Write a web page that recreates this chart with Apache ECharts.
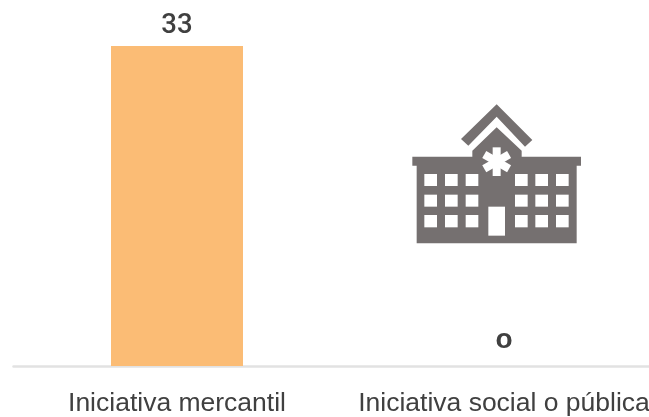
<!DOCTYPE html>
<html><head><meta charset="utf-8">
<style>html,body{margin:0;padding:0;background:#fff;overflow:hidden;width:649px;height:417px}#w{width:649px;height:417px;overflow:hidden}#c{width:680px;height:417px}</style>
<script src="https://cdn.jsdelivr.net/npm/echarts@6/dist/echarts.min.js"></script>
</head><body><div id="w"><div id="c"></div></div>
<script>
const categories = ['Iniciativa mercantil', 'Iniciativa social o pública'];
const values = [33, 0];

const chart = echarts.init(document.getElementById('c'), null, {renderer: 'canvas'});
const ICON = '#757070';
const X = z => 400 + z / 3, Y = z => 95 + z / 3;
const poly = pts => ({type: 'polygon', silent: true, shape: {points: pts.map(p => [X(p[0]), Y(p[1])])}, style: {fill: ICON}});
const box = (x0, y0, x1, y1) => ({type: 'rect', silent: true, shape: {x: X(x0), y: Y(y0), width: (x1 - x0) / 3, height: (y1 - y0) / 3}, style: {fill: '#fff'}});
const icon = [
  poly([[290,28],[397,135],[375,155],[290,65],[205,152],[183,132]]),
  poly([[290,97],[365,167],[365,185],[543,185],[543,212],[530,212],[530,445],[50,445],[50,212],[37,212],[37,185],[217,185],[217,167]])
];
[[237,273],[299,335],[360,397]].forEach(r => {
  [[73,111],[135,173],[197,235],[345,383],[406,444],[468,506]].forEach(c => icon.push(box(c[0], r[0], c[1], r[1])));
});
icon.push(box(265, 335, 315, 422));
[0, 60, 120].forEach(a => icon.push({
  type: 'rect', silent: true, x: X(290), y: Y(200), rotation: a * Math.PI / 180,
  shape: {x: -4, y: -43 / 3, width: 8, height: 86 / 3}, style: {fill: '#fff'}
}));

chart.setOption({
  animation: false,
  backgroundColor: '#fff',
  grid: {left: 13.5, top: 46, width: 654, height: 320, containLabel: false},
  xAxis: {
    type: 'category', data: categories, offset: 1,
    axisLine: {lineStyle: {color: '#e2e2e2', width: 2.5}},
    axisTick: {show: false},
    axisLabel: {color: '#404040', fontFamily: 'Liberation Sans', fontSize: 26.5, margin: 23, interval: 0}
  },
  yAxis: {type: 'value', min: 0, max: 33, show: false, splitLine: {show: false}},
  series: [{
    type: 'bar', data: values, barWidth: 132, silent: true,
    itemStyle: {color: '#FBBC75'},
    label: {
      show: true, position: 'top', distance: 6, color: '#404040',
      formatter: p => p.value === 0 ? '{z|o}' : '{n|' + p.value + '}',
      rich: {
        n: {fontFamily: 'Roboto', fontWeight: 500, fontSize: 27.5, color: '#404040'},
        z: {fontFamily: 'Liberation Sans', fontWeight: 'bold', fontSize: 28, color: '#404040', padding: [0, 0, 6, 0]}
      }
    }
  }],
  graphic: {elements: [{type: 'group', silent: true, children: icon}]}
});
</script></body></html>
